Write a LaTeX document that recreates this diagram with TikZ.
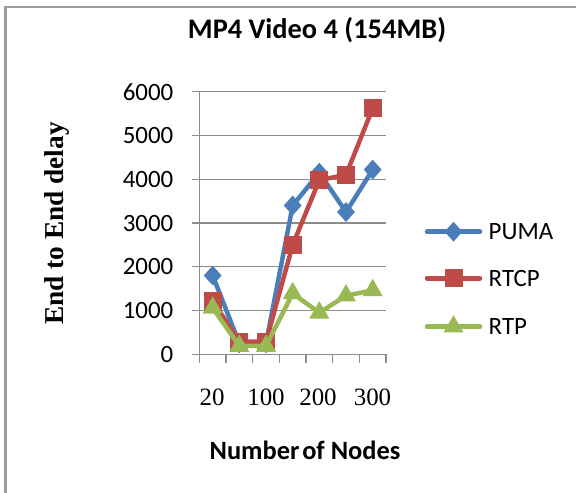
\documentclass[tikz,border=0pt]{standalone}
\usepackage{fontspec}
\setmainfont{Carlito}
\newfontfamily\tms{Liberation Serif}
\usetikzlibrary{shapes.geometric}
\definecolor{pumac}{HTML}{4A7EBB}
\definecolor{rtcpc}{HTML}{BE4B48}
\definecolor{rtpc}{HTML}{98B954}
\definecolor{gridc}{HTML}{8C8C8C}
\definecolor{framec}{HTML}{9C9C9C}
\tikzset{
  gridline/.style={draw=gridc, line width=1.3bp},
  serline/.style={line width=4.5bp, line join=round, line cap=round},
  dmark/.style={diamond, fill=pumac, inner sep=0pt, minimum width=18bp, minimum height=20bp},
  smark/.style={rectangle, fill=rtcpc, inner sep=0pt, minimum size=18bp},
  tmark/.style={isosceles triangle, isosceles triangle apex angle=60, shape border rotate=90, fill=rtpc, inner sep=0pt, minimum height=17bp, minimum width=20bp},
  ticklab/.style={font=\fontsize{25}{25}\selectfont, anchor=east, inner sep=0pt},
  catlab/.style={font=\tms\fontsize{25}{25}\selectfont, inner sep=0pt},
  legtext/.style={font=\fontsize{25}{25}\selectfont, anchor=west, inner sep=0pt},
}
\begin{document}
\begin{tikzpicture}[x=1bp, y=-1bp]
\useasboundingbox (0,0) rectangle (576,493);
\fill[white] (0,0) rectangle (576,493);
% frame
\draw[framec, line width=2.6bp] (5.5,493) -- (5.5,7) -- (576,7);
% title
\node[font=\bfseries\fontsize{28.5}{28.5}\selectfont, inner sep=0pt] (title) at (317,30) {MP4 Video 4 (154MB)};
% y label
\node[font=\tms\bfseries\fontsize{27.4}{27.4}\selectfont, rotate=90, inner sep=0pt] (ylab) at (57,223.5) {End to End delay};
% x label
\node[font=\bfseries\fontsize{26.5}{26.5}\selectfont, inner sep=0pt] (xlab) at (305,450) {Number\hspace{-0.12em} of Nodes};
\begin{scope}[yshift=-354.3bp, y=0.04377bp]
  \foreach \v in {0,1000,...,6000}{
    \draw[gridline] (191.7,\v) -- (386,\v);
    \node[ticklab] (t\v) at (173.5,\v) {\v};
  }
  \draw[gridline] (199.3,0) -- (199.3,6000);
  \foreach \xx in {199.3,226,252.7,279.3,306,332.7,359.3,386}{
    \draw[gridline] (\xx,0) -- ++(0bp,-8.5bp);
  }
  % series coordinates
  \foreach \i/\xx/\a/\b/\c in {1/212.7/1800/1220/1060, 2/239.3/250/290/190, 3/266/250/290/190, 4/292.7/3400/2500/1390, 5/319.3/4150/3980/950, 6/346/3250/4100/1340, 7/372.7/4220/5620/1460}{
    \coordinate (p\i) at (\xx,\a);
    \coordinate (r\i) at (\xx,\b);
    \coordinate (g\i) at (\xx,\c);
  }
  \draw[pumac, serline] (p1) -- (p2) -- (p3) -- (p4) -- (p5) -- (p6) -- (p7);
  \foreach \i in {1,...,7}{ \node[dmark] (pm\i) at (p\i) {}; }
  \draw[rtcpc, serline] (r1) -- (r2) -- (r3) -- (r4) -- (r5) -- (r6) -- (r7);
  \foreach \i in {1,...,7}{ \node[smark] (rm\i) at (r\i) {}; }
  \draw[rtpc, serline] (g1) -- (g2) -- (g3) -- (g4) -- (g5) -- (g6) -- (g7);
  \foreach \i in {1,...,7}{ \node[tmark] (gm\i) at (g\i) {}; }
\end{scope}
% category labels
\node[catlab] (x20) at (212,397) {20};
\node[catlab] (x100) at (266,397) {100};
\node[catlab] (x200) at (318,397) {200};
\node[catlab] (x300) at (372.5,397) {300};
% legend
\coordinate (la1) at (427,231.7); \coordinate (lb1) at (480,231.7);
\coordinate (la2) at (427,278.3); \coordinate (lb2) at (480,278.3);
\coordinate (la3) at (427,326.7); \coordinate (lb3) at (480,326.7);
\draw[pumac, serline] (la1) -- (lb1);
\node[dmark] (lm1) at (453.5,231.7) {};
\draw[rtcpc, serline] (la2) -- (lb2);
\node[smark] (lm2) at (453.5,278.3) {};
\draw[rtpc, serline] (la3) -- (lb3);
\node[tmark] (lm3) at (453.5,326.7) {};
\node[legtext] (l1) at (488.5,231.7) {PUMA};
\node[legtext] (l2) at (488.5,278.3) {RTCP};
\node[legtext] (l3) at (488.5,326.7) {RTP};
\end{tikzpicture}
\end{document}
